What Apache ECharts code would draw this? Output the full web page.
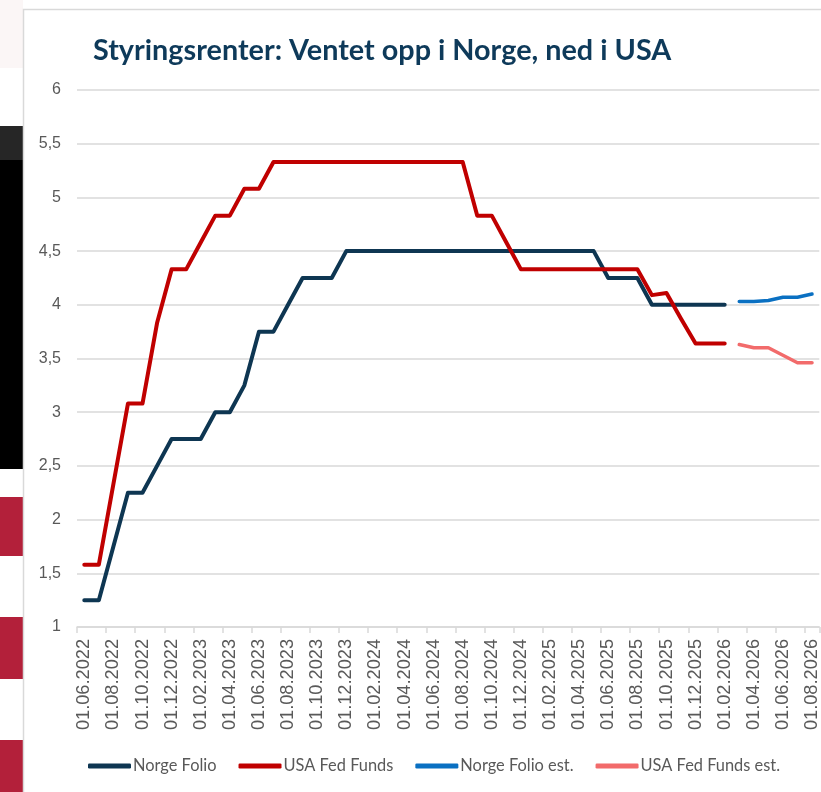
<!DOCTYPE html>
<html>
<head>
<meta charset="utf-8">
<script src="https://cdn.jsdelivr.net/npm/echarts@6/dist/echarts.min.js"></script>
<style>
  html, body { margin: 0; padding: 0; background: #fff; }
  #main { width: 821px; height: 792px; }
</style>
</head>
<body>
<div id="main"></div>
<script>
// måneder (første i hver måned), juni 2022 - august 2026
var months = [
  '01.06.2022','01.07.2022','01.08.2022','01.09.2022','01.10.2022','01.11.2022','01.12.2022',
  '01.01.2023','01.02.2023','01.03.2023','01.04.2023','01.05.2023','01.06.2023','01.07.2023',
  '01.08.2023','01.09.2023','01.10.2023','01.11.2023','01.12.2023','01.01.2024','01.02.2024',
  '01.03.2024','01.04.2024','01.05.2024','01.06.2024','01.07.2024','01.08.2024','01.09.2024',
  '01.10.2024','01.11.2024','01.12.2024','01.01.2025','01.02.2025','01.03.2025','01.04.2025',
  '01.05.2025','01.06.2025','01.07.2025','01.08.2025','01.09.2025','01.10.2025','01.11.2025',
  '01.12.2025','01.01.2026','01.02.2026','01.03.2026','01.04.2026','01.05.2026','01.06.2026',
  '01.07.2026','01.08.2026'
];

// historikk: juni 2022 - februar 2026
var norgeFolio = [
  1.25, 1.25, 1.75, 2.25, 2.25, 2.5, 2.75, 2.75, 2.75, 3.0, 3.0, 3.25, 3.75, 3.75, 4.0, 4.25,
  4.25, 4.25, 4.5, 4.5, 4.5, 4.5, 4.5, 4.5, 4.5, 4.5, 4.5, 4.5, 4.5, 4.5, 4.5, 4.5, 4.5, 4.5,
  4.5, 4.5, 4.25, 4.25, 4.25, 4.0, 4.0, 4.0, 4.0, 4.0, 4.0
];
var usaFedFunds = [
  1.58, 1.58, 2.33, 3.08, 3.08, 3.83, 4.33, 4.33, 4.58, 4.83, 4.83, 5.08, 5.08, 5.33, 5.33, 5.33,
  5.33, 5.33, 5.33, 5.33, 5.33, 5.33, 5.33, 5.33, 5.33, 5.33, 5.33, 4.83, 4.83, 4.58, 4.33, 4.33,
  4.33, 4.33, 4.33, 4.33, 4.33, 4.33, 4.33, 4.09, 4.11, 3.87, 3.64, 3.64, 3.64
];
// estimater: mars 2026 - august 2026
var norgeFolioEst = [4.03, 4.03, 4.04, 4.07, 4.07, 4.10];
var usaFedFundsEst = [3.63, 3.60, 3.60, 3.53, 3.46, 3.46];

var yTicks = { min: 1, max: 6, step: 0.5 };

function pad(before, vals, after) {
  var out = [];
  for (var i = 0; i < before; i++) out.push(null);
  out = out.concat(vals);
  for (var j = 0; j < after; j++) out.push(null);
  return out;
}
var nHist = norgeFolio.length;
var nEst = months.length - nHist;

var myChart = echarts.init(document.getElementById('main'));

var lineSeries = function (name, data, color, width) {
  return {
    type: 'line',
    name: name,
    data: data,
    symbol: 'none',
    animation: false,
    connectNulls: false,
    lineStyle: { color: color, width: width, cap: 'round', join: 'round' },
    itemStyle: { color: color }
  };
};

var option = {
  backgroundColor: '#ffffff',
  animation: false,
  graphic: [
    // rester av siden rundt figuren
    { type: 'rect', shape: { x: 0, y: 0, width: 23, height: 68 }, style: { fill: '#fbf6f6' }, silent: true },
    { type: 'rect', shape: { x: 0, y: 126, width: 23, height: 35 }, style: { fill: '#262626' }, silent: true },
    { type: 'rect', shape: { x: 0, y: 160, width: 23, height: 309 }, style: { fill: '#000000' }, silent: true },
    { type: 'rect', shape: { x: 0, y: 497, width: 23, height: 59 }, style: { fill: '#b3203a' }, silent: true },
    { type: 'rect', shape: { x: 0, y: 617, width: 23, height: 62 }, style: { fill: '#b3203a' }, silent: true },
    { type: 'rect', shape: { x: 0, y: 740, width: 23, height: 60 }, style: { fill: '#b3203a' }, silent: true },
    { type: 'rect', shape: { x: 23.5, y: 9.5, width: 820, height: 800 }, style: { fill: 'none', stroke: '#d9d9d9', lineWidth: 1.5 }, silent: true }
  ],
  title: {
    text: 'Styringsrenter: Ventet opp i Norge, ned i USA',
    left: 88,
    top: 31,
    textStyle: {
      fontFamily: 'Lato',
      fontWeight: 'bold',
      fontSize: 28.8,
      color: '#0e3a5a'
    }
  },
  grid: {
    left: 77,
    top: 90,
    width: 745,
    height: 537,
    containLabel: false
  },
  legend: {
    left: 83,
    top: 753,
    itemWidth: 43,
    itemHeight: 5,
    itemGap: 22,
    icon: 'roundRect',
    data: ['Norge Folio', 'USA Fed Funds', 'Norge Folio est.', 'USA Fed Funds est.'],
    textStyle: { fontFamily: 'Lato', fontSize: 16.4, color: '#595959', padding: [0, 0, 0, -3] }
  },
  xAxis: {
    type: 'category',
    data: months,
    boundaryGap: true,
    axisLine: { show: true, lineStyle: { color: '#d9d9d9', width: 1.5 } },
    axisTick: { show: true, interval: 1, length: 6, lineStyle: { color: '#d9d9d9', width: 1.5 } },
    axisLabel: {
      interval: 1,
      rotate: 90,
      margin: 12,
      fontFamily: 'Liberation Sans',
      fontSize: 18.2,
      color: '#595959'
    },
    splitLine: { show: false }
  },
  yAxis: {
    type: 'value',
    min: yTicks.min,
    max: yTicks.max,
    interval: yTicks.step,
    axisLine: { show: false },
    axisTick: { show: false },
    axisLabel: {
      margin: 16,
      fontFamily: 'Liberation Sans',
      fontSize: 16,
      color: '#595959',
      formatter: function (v) { return String(v).replace('.', ','); }
    },
    splitLine: { show: true, lineStyle: { color: '#d9d9d9', width: 1.5 } }
  },
  series: [
    lineSeries('Norge Folio', pad(0, norgeFolio, nEst), '#0e3652', 4),
    lineSeries('USA Fed Funds', pad(0, usaFedFunds, nEst), '#c00000', 4),
    lineSeries('Norge Folio est.', pad(nHist, norgeFolioEst, 0), '#0a70c2', 3.5),
    lineSeries('USA Fed Funds est.', pad(nHist, usaFedFundsEst, 0), '#f26b6b', 3.5)
  ]
};

myChart.setOption(option);
</script>
</body>
</html>
